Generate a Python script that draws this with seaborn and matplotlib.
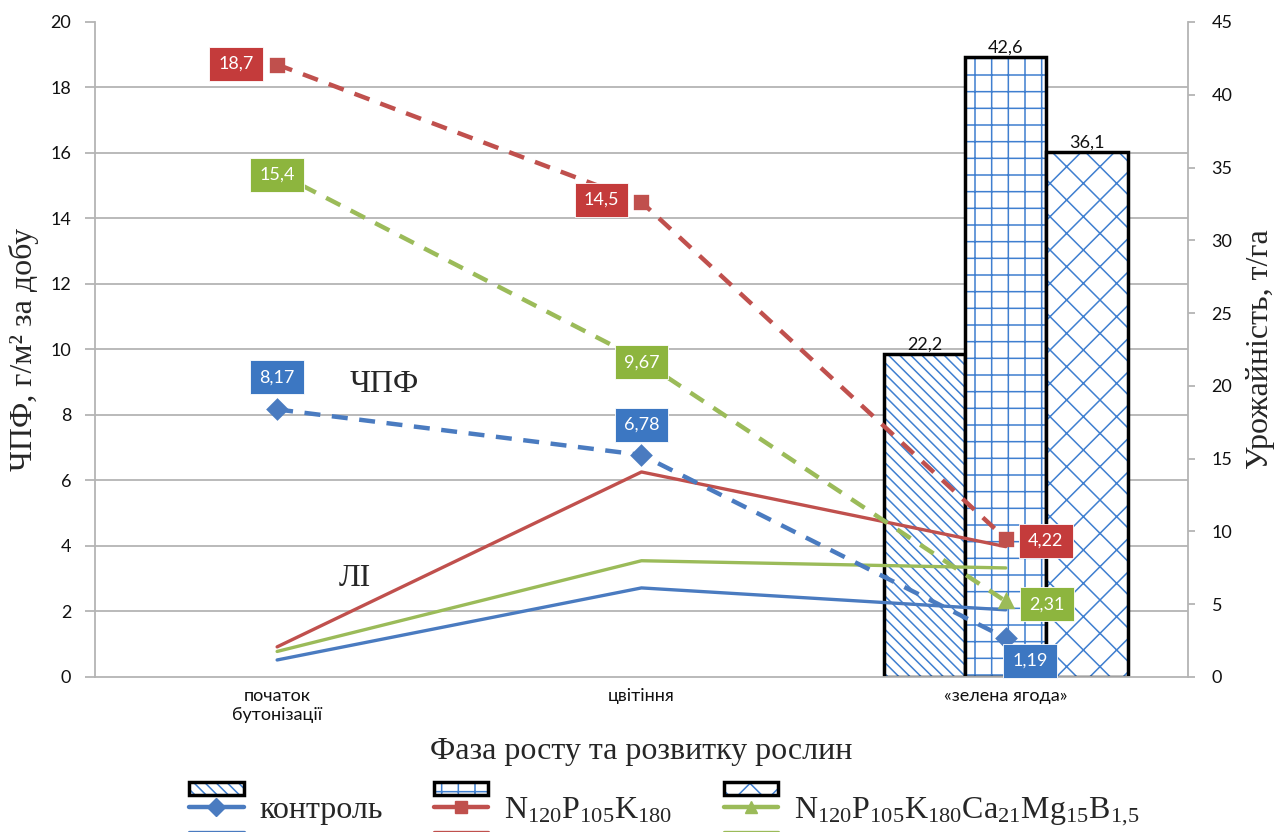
import numpy as np
import pandas as pd
import matplotlib
matplotlib.use('Agg')
import matplotlib.pyplot as plt
from matplotlib.patches import Patch
from matplotlib.lines import Line2D
from matplotlib.colors import to_rgba
import seaborn as sns

# phases of plant growth (x categories)
phases = ['початок\nбутонізації', 'цвітіння', '«зелена ягода»']
variants = ['контроль',
            r'N$_{120}$P$_{105}$K$_{180}$',
            r'N$_{120}$P$_{105}$K$_{180}$Ca$_{21}$Mg$_{15}$B$_{1{,}5}$']

# ЧПФ, г/м2 за добу (dashed lines with labels)
chpf_control = [8.17, 6.78, 1.19]
chpf_npk = [18.7, 14.5, 4.22]
chpf_full = [15.4, 9.67, 2.31]

# ЛІ (solid lines)
li_control = [0.52, 2.72, 2.05]
li_npk = [0.92, 6.26, 3.98]
li_full = [0.78, 3.55, 3.33]

# урожайність, т/га - only at «зелена ягода»
yield_phase = '«зелена ягода»'
yields = [22.2, 42.6, 36.1]

# styles
line_colors = ['#4A7BC0', '#C0504D', '#9BBB59']
box_colors = ['#3C77C2', '#C43B3B', '#8DB53E']
hatch_blue = '#3F7FD0'
hatches = ['\\\\\\', '+', 'x']
markers = ['D', 's', '^']
dash = (0, (3.6, 2.6))
grid_gray = '#B4B4B4'
# label box offsets from the marker, in pixels
label_offsets = [[(0, 32), (0, 30), (24, -23)],
                 [(-41, 1), (-40, 2), (40, -2)],
                 [(0, -2), (0, -2), (41, -3)]]

sns.set_style('white')
plt.rcParams['font.family'] = ['Lato', 'DejaVu Sans']
plt.rcParams['mathtext.fontset'] = 'custom'
plt.rcParams['mathtext.rm'] = 'Liberation Serif'
plt.rcParams['mathtext.default'] = 'regular'
plt.rcParams['hatch.linewidth'] = 1.1
serif = ['Liberation Serif', 'DejaVu Serif']

df_chpf = pd.DataFrame({'phase': phases * 3,
                        'variant': np.repeat(variants, 3),
                        'value': chpf_control + chpf_npk + chpf_full})
df_li = pd.DataFrame({'phase': phases * 3,
                      'variant': np.repeat(variants, 3),
                      'value': li_control + li_npk + li_full})
df_yield = pd.DataFrame({'phase': [yield_phase] * 3,
                         'variant': variants,
                         'yield': yields})

fig = plt.figure(figsize=(12.85, 8.32), dpi=100)
ax = fig.add_axes([0.0739, 0.1863, 0.8506, 0.7873])
ax2 = ax.twinx()
ax.set_zorder(2)
ax2.set_zorder(1)
ax.patch.set_visible(False)

# bars (right axis)
sns.barplot(data=df_yield, x='phase', y='yield', hue='variant', order=phases,
            hue_order=variants, palette=['white'] * 3, width=0.67,
            edgecolor='black', linewidth=2.5, errorbar=None, legend=False, ax=ax2)
for i, cont in enumerate(ax2.containers):
    for p in cont:
        p.set_hatch(hatches[i])
        p._hatch_color = to_rgba(hatch_blue)
    ax2.bar_label(cont, labels=[f'{yields[i]:.1f}'.replace('.', ',')],
                  fontsize=13, padding=1, color='#111111')

# ЛІ lines
sns.pointplot(data=df_li, x='phase', y='value', hue='variant', order=phases,
              hue_order=variants, palette=line_colors, markers=['o'] * 3,
              linestyles=['-'] * 3, markersize=0, linewidth=2.4,
              errorbar=None, dodge=False, legend=False, ax=ax)
# ЧПФ lines
sns.pointplot(data=df_chpf, x='phase', y='value', hue='variant', order=phases,
              hue_order=variants, palette=line_colors, markers=markers,
              linestyles=[dash] * 3, markersize=9, linewidth=3.2,
              errorbar=None, dodge=False, legend=False, ax=ax)

for k, vals in enumerate([chpf_control, chpf_npk, chpf_full]):
    for i, v in enumerate(vals):
        txt = (f'{v:.2f}' if v < 10 else f'{v:.1f}').replace('.', ',')
        ax.annotate(txt, xy=(i, v), xytext=label_offsets[k][i],
                    textcoords='offset pixels', ha='center', va='center',
                    fontsize=13, color='white', zorder=10,
                    bbox=dict(boxstyle='square,pad=0.5', fc=box_colors[k],
                              ec='white', lw=0.6))

ax.text(0.265, 0.446, 'ЧПФ', transform=ax.transAxes, family=serif,
        fontsize=23, ha='center', va='center')
ax.text(0.238, 0.151, 'ЛІ', transform=ax.transAxes, family=serif,
        fontsize=23, ha='center', va='center')

# axes
ax.set_xlim(-0.5, 2.5)
ax.set_ylim(0, 20)
ax2.set_ylim(0, 45)
ax.set_yticks(np.arange(0, 21, 2))
ax2.set_yticks(np.arange(0, 46, 5))
ax2.set_yticks(np.linspace(0, 45, 11), minor=True)
ax2.grid(which='minor', axis='y', color=grid_gray, lw=1.3)
ax2.grid(which='major', visible=False)
ax2.set_axisbelow(True)
ax.set_xticks(range(3))
ax.set_xticklabels(phases, fontsize=13)
ax.set_xticks([0.5, 1.5], minor=True)
ax.tick_params(axis='x', which='major', length=0, pad=8, labelcolor='#111111')
ax.tick_params(axis='x', which='minor', length=7, width=1.3, color=grid_gray)
ax.tick_params(axis='y', length=7, width=1.3, color=grid_gray, labelsize=13,
               labelcolor='#111111', pad=10)
ax2.tick_params(axis='y', which='major', length=5, width=1.3, color=grid_gray,
                labelsize=13, labelcolor='#111111', pad=12)
ax2.tick_params(axis='y', which='minor', length=0)
for a in (ax, ax2):
    for s in a.spines.values():
        s.set_visible(False)
ax.spines['left'].set_visible(True)
ax.spines['bottom'].set_visible(True)
ax2.spines['right'].set_visible(True)
for s in (ax.spines['left'], ax.spines['bottom'], ax2.spines['right']):
    s.set_color(grid_gray)
    s.set_linewidth(1.3)

ax.set_xlabel('Фаза росту та розвитку рослин', family=serif, fontsize=23,
              labelpad=10)
ax.set_ylabel('ЧПФ, г/м² за добу', family=serif, fontsize=23, labelpad=8)
ax2.set_ylabel('Урожайність, т/га', family=serif, fontsize=23, labelpad=10)

# legend: bar row, dashed row, solid row (cut by the figure edge)
bar_handles = []
for h in hatches:
    p = Patch(facecolor='white', edgecolor='black', linewidth=2.5, hatch=h)
    p._hatch_color = to_rgba(hatch_blue)
    bar_handles.append(p)
dash_handles = [Line2D([], [], color=c, lw=3.2, marker=m, markersize=9)
                for c, m in zip(line_colors, markers)]
solid_handles = [Line2D([], [], color=c, lw=2.4) for c in line_colors]
leg_kw = dict(loc='center', ncol=3, frameon=False, handlelength=1.7,
              handletextpad=0.5, columnspacing=1.6,
              prop={'family': 'Liberation Serif', 'size': 23})
for handles, y, show in [(bar_handles, 0.052, False),
                         (dash_handles, 0.024, True),
                         (solid_handles, -0.006, False)]:
    leg = fig.legend(handles, variants, bbox_to_anchor=(0.517, y), **leg_kw)
    if not show:
        for t in leg.get_texts():
            t.set_alpha(0)
    if handles is bar_handles:
        for lh in leg.legend_handles:
            lh.set_height(lh.get_height() * 0.6)

fig.savefig('out.png', dpi=100)
